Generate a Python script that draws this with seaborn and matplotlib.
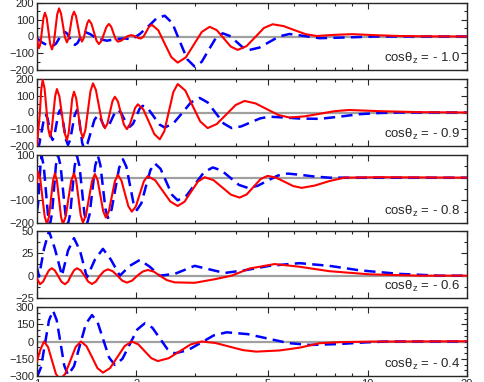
import matplotlib
matplotlib.use("Agg")
import pandas as pd
import seaborn as sns
import matplotlib.pyplot as plt
from matplotlib.ticker import FixedLocator, MultipleLocator, NullFormatter

# zenith bins, top to bottom
cos_labels = ["- 1.0", "- 0.9", "- 0.8", "- 0.6", "- 0.4"]

# --- cos = -1.0 ---
e_red_1 = [1.000, 1.014, 1.025, 1.046, 1.057, 1.070, 1.096, 1.110, 1.124, 1.151, 1.166, 1.182, 1.215,
           1.232, 1.247, 1.278, 1.294, 1.312, 1.349, 1.368, 1.384, 1.419, 1.436, 1.461, 1.513, 1.539,
           1.566, 1.622, 1.650, 1.676, 1.729, 1.757, 1.797, 1.880, 1.923, 1.957, 2.026, 2.061, 2.101,
           2.183, 2.226,
           2.328, 2.435, 2.549, 2.665, 2.819, 2.981, 3.151, 3.330, 3.498, 3.673, 3.856, 4.048, 4.302,
           4.573, 4.859, 5.164, 5.574, 6.011, 6.496, 7.015, 7.950, 9.010, 10.50, 12.48, 15.39, 20.0]
d_red_1 = [-15, -70, -39, 111, 142, 110, -45, -77, -41, 132, 168, 138, -5,
           -35, -8, 121, 148, 122, -4, -30, -11, 79, 98, 77, -24, -45,
           -27, 57, 75, 59.5, -15.5, -31, -25, 2, 8, 5, -9, -12, 0,
           58, 70,
           37, -43, -123, -156, -125, -49, 27, 58, 38, -11, -60, -80, -58,
           -4, 51, 73, 62, 38, 14, 3, 10, 14, 8, 3, 1, 0]
e_blue_1 = [1.000, 1.035, 1.080, 1.118, 1.141, 1.190, 1.215, 1.236, 1.280, 1.303, 1.326, 1.372, 1.397,
            1.446, 1.518, 1.627, 1.745, 1.845, 1.936, 2.047,
            2.194, 2.304, 2.435, 2.567, 2.703, 2.849, 3.000, 3.151, 3.308, 3.473, 3.647, 3.823, 4.005,
            4.199, 4.397, 4.713, 5.053, 5.416, 5.806, 6.451, 7.153, 8.520, 10.50, 20.0]
d_blue_1 = [-10, -35, -55, -55, -43, 15, 27, 16, -39, -50, -39, 16, 27,
            15, -12, -25, -15, -12, -17, 15,
            69, 110, 124, 80, -28, -136, -180, -151, -80, -10, 19, 4, -30,
            -66, -80, -66, -32, 1, 15, 3, -10, -6, 0, 0]

# --- cos = -0.9 ---
e_red_2 = [1.000, 1.020, 1.030, 1.040, 1.054, 1.081, 1.095, 1.108, 1.135, 1.149, 1.169, 1.211, 1.232,
           1.247, 1.278, 1.294, 1.314, 1.356, 1.377, 1.401, 1.451, 1.477, 1.507, 1.572, 1.605, 1.633,
           1.691, 1.720, 1.757, 1.831, 1.870, 1.906, 1.981, 2.019,
           2.098, 2.180, 2.265, 2.352, 2.428, 2.505, 2.585, 2.665, 2.810, 2.960, 3.119, 3.284, 3.498,
           3.737, 3.993, 4.247, 4.588, 4.970, 5.375, 5.806, 6.451, 7.153, 7.950, 8.813, 10.86, 14.34,
           20.0]
d_red_2 = [-200, -3, 136, 194, 144.5, -94.5, -144, -102, 98, 140, 95.5, -119.5, -164,
           -122, 82, 124, 84, -112, -152, -104, 126, 174, 135, -55, -94, -66.5,
           66.5, 94, 66, -71, -99, -77, 27, 49,
           18, -55.5, -129, -160, -112, 5, 122, 170, 131, 38, -54, -93, -69,
           -12, 45, 69, 54, 19, -15, -30, -23, -8, 8, 15, 8, 2,
           0]
e_blue_2 = [1.000, 1.016, 1.048, 1.065, 1.077, 1.102, 1.115, 1.129, 1.159, 1.174, 1.190, 1.224, 1.241,
            1.260, 1.300, 1.321, 1.337, 1.370, 1.387, 1.421, 1.492, 1.529, 1.550, 1.594, 1.616, 1.650,
            1.720, 1.757, 1.794, 1.870, 1.909, 1.953, 2.043, 2.090,
            2.172, 2.257, 2.345, 2.435, 2.589, 2.752, 2.924, 3.106, 3.284, 3.473, 3.673, 3.880, 4.148,
            4.431, 4.734, 5.053, 5.607, 6.224, 7.153, 8.220, 9.447, 10.86, 12.48, 20.0]
d_blue_2 = [-220, -190, -45, -15, -37, -142, -164, -138, -11, 15, -16, -163, -194,
            -163, -16, 15, -19, -181, -215, -186, -44, -15, -26, -82, -93, -77,
            -1, 15, 0, -70, -85, -67, 22, 40,
            21, -25, -71, -90, -64, -2, 61, 87, 60, -3, -66, -93, -83,
            -59, -35, -25, -30, -36, -38, -25, -10, -3, 0, 0]

# --- cos = -0.8 ---
e_red_3 = [1.000, 1.007, 1.023, 1.055, 1.072, 1.087, 1.118, 1.133, 1.149, 1.182, 1.198, 1.221, 1.269,
           1.294, 1.314, 1.356, 1.377, 1.406, 1.467, 1.497, 1.526, 1.586, 1.616, 1.650, 1.720, 1.757,
           1.800, 1.890, 1.936, 1.991, 2.105, 2.163,
           2.280, 2.403, 2.531, 2.665, 2.795, 2.929, 3.070, 3.216, 3.420, 3.635, 3.862, 4.102, 4.310,
           4.524, 4.751, 4.987, 5.291, 5.607, 5.957, 6.318, 6.918, 7.669, 8.520, 10.86, 20.0]
d_red_3 = [-18, 27, -7, -171, -205, -172, -14, 19, -14, -172, -205, -172, -14,
           19, -13, -166, -198, -167, -15, 16, -12, -148, -176, -148, -16, 12,
           -12, -126, -150, -127, -16, 7,
           -12, -59, -105, -125, -106, -61, -17, 2, -11, -43, -75, -88, -74,
           -40, -6, 8, 0, -18, -37, -45, -35, -15, 0, 2, 0]
e_blue_3 = [1.000, 1.008, 1.025, 1.033, 1.048, 1.079, 1.095, 1.110, 1.141, 1.157, 1.178, 1.219, 1.241,
            1.260, 1.300, 1.321, 1.344, 1.392, 1.416, 1.443, 1.500, 1.529, 1.555, 1.611, 1.639, 1.682,
            1.772, 1.820, 1.864, 1.957, 2.005,
            2.069, 2.134, 2.203, 2.272, 2.365, 2.461, 2.563, 2.665, 2.835, 3.012, 3.201, 3.402, 3.615,
            3.842, 4.083, 4.341, 4.652, 4.987, 5.347, 5.732, 6.224, 6.918, 7.669, 20.0]
d_blue_3 = [-150, -114, 60, 96, 52, -161, -205, -160, 55, 100, 55, -160, -205,
            -161, 52, 96, 52, -161, -205, -161, 52, 96, 56, -138, -178, -140,
            43, 81, 48, -110, -143,
            -113, -40, 33, 63, 39, -18, -76, -100, -79, -27, 24, 45, 32,
            0, -32, -45, -36, -13, 9, 18, 13, 5, 0, 0]

# --- cos = -0.6 ---
e_red_4 = [1.000, 1.021, 1.043, 1.065, 1.086, 1.108, 1.132, 1.157, 1.186, 1.215, 1.241, 1.267, 1.294,
           1.321, 1.356, 1.392, 1.428, 1.467, 1.507, 1.550, 1.594, 1.639, 1.694, 1.751, 1.810, 1.870,
           1.940, 2.012, 2.087, 2.163, 2.257, 2.352, 2.471, 2.610, 3.000, 3.447, 3.880, 4.397, 5.236,
           6.224, 7.669, 10.13, 14.34, 20.0]
d_red_4 = [-3, -9.6, -6.8, 0, 5.9, 8.3, 5.9, 0, -6.8, -9.6, -6.8, 0, 5.9,
           8.3, 5.9, 0, -6.6, -9.3, -6.6, 0, 5, 7.1, 5, 0, -5.5, -7.8,
           -5.5, 0, 4.5, 6.4, 4.5, 0, -5, -7.5, -8, -4, 0, 8, 13,
           10, 5, 1.5, 0, 0]
e_blue_4 = [1.000, 1.014, 1.050, 1.087, 1.133, 1.190, 1.241, 1.294, 1.349, 1.416, 1.497, 1.583, 1.673,
            1.781, 1.909, 2.047, 2.194, 2.352, 2.610, 3.000, 3.330, 3.695, 4.247, 5.053, 6.224, 7.669,
            9.447, 12.48, 16.48, 20.0]
d_blue_4 = [9, -1, 30, 50, 30, 0, 28, 42, 28, -2, 18, 30, 18,
            0, 11, 17.6, 10, 0, 2, 11, 7, 3, 6, 11, 14, 11,
            6, 2, 0, 0]

# --- cos = -0.4 ---
e_red_5 = [1.000, 1.021, 1.050, 1.080, 1.110, 1.141, 1.174, 1.217, 1.262, 1.309, 1.358, 1.411, 1.467,
           1.523, 1.583, 1.664, 1.751, 1.841, 1.936, 2.026, 2.119, 2.218, 2.320, 2.505, 2.703, 2.919,
           3.151, 3.467, 3.816, 4.199, 4.606, 5.416, 6.224, 7.153, 8.220, 10.14, 20.0]
d_red_5 = [-175, -80, 0, -48, -165, -282, -330, -282, -165, -48, 0, -40, -135,
           -231, -271, -231, -135, -40, 0, -25, -85, -145, -170, -145, -85, -25,
           0, -13, -44, -75, -88, -78, -54, -15, -6, -1, 2]
e_blue_5 = [1.000, 1.028, 1.057, 1.087, 1.118, 1.147, 1.178, 1.209, 1.241, 1.294, 1.349, 1.406, 1.467,
            1.526, 1.588, 1.653, 1.720, 1.813, 1.909, 2.012, 2.119, 2.234, 2.352, 2.479, 2.610, 2.859,
            3.129, 3.425, 3.748, 4.341, 5.005, 5.771, 6.672, 8.220, 9.790, 11.39, 20.0]
d_blue_5 = [-310, -225, -21, 183, 268, 186, -12, -209, -291, -215, -31, 154, 230,
            166, 13, -140, -204, -151, -23, 105, 158, 120, 28, -65, -103, -76,
            -12, 53, 80, 64, 25, -14, -30, -22, -8, 0, 0]

red_e = [e_red_1, e_red_2, e_red_3, e_red_4, e_red_5]
red_d = [d_red_1, d_red_2, d_red_3, d_red_4, d_red_5]
blue_e = [e_blue_1, e_blue_2, e_blue_3, e_blue_4, e_blue_5]
blue_d = [d_blue_1, d_blue_2, d_blue_3, d_blue_4, d_blue_5]

y_limits = [(-200, 200), (-200, 200), (-200, 100), (-25, 50), (-300, 300)]
y_major = [100, 100, 100, 25, 150]
y_minor = [50, 50, 50, 12.5, 50]

# panel boxes in figure pixels (top, bottom)
panel_px = [(3, 70), (79, 146), (155, 223), (231, 298), (307, 376)]

sns.set_style("ticks")
plt.rcParams["font.family"] = ["Liberation Sans", "DejaVu Sans"]

W, H = 485, 382
fig = plt.figure(figsize=(W / 100, H / 100), dpi=100)

for i in range(5):
    top, bot = panel_px[i]
    ax = fig.add_axes([37 / W, 1 - bot / H, 430 / W, (bot - top) / H])

    ax.axhline(0, color="#a0a0a0", lw=1.6, zorder=1)
    red_df = pd.DataFrame({"E": red_e[i], "d": red_d[i]})
    blue_df = pd.DataFrame({"E": blue_e[i], "d": blue_d[i]})
    sns.lineplot(data=red_df, x="E", y="d", ax=ax, color="red", lw=1.5, sort=False, zorder=3)
    sns.lineplot(data=blue_df, x="E", y="d", ax=ax, color="blue", lw=1.8, sort=False,
                 zorder=2, linestyle=(0, (4.5, 2.5)))

    ax.set_xscale("log")
    ax.set_xlim(1, 20)
    ax.set_ylim(*y_limits[i])
    ax.xaxis.set_major_locator(FixedLocator([1, 2, 5, 10, 20]))
    ax.xaxis.set_minor_locator(FixedLocator([3, 4, 6, 7, 8, 9]))
    ax.xaxis.set_minor_formatter(NullFormatter())
    if i == 4:
        ax.set_xticklabels(["1", "2", "5", "10", "20"])
    else:
        ax.set_xticklabels([])
    ax.yaxis.set_major_locator(MultipleLocator(y_major[i]))
    ax.yaxis.set_minor_locator(MultipleLocator(y_minor[i]))
    ax.tick_params(which="both", direction="in", top=True, right=True, labelsize=8,
                   width=0.8, pad=2)
    ax.tick_params(which="major", length=4)
    ax.tick_params(which="minor", length=2.5)
    for s in ax.spines.values():
        s.set_linewidth(1.0)
    ax.set_xlabel("")
    ax.set_ylabel("")
    ax.text(0.985, 0.06, r"cos$\mathregular{\theta_z}$ = " + cos_labels[i],
            transform=ax.transAxes, ha="right", va="bottom", fontsize=9.5)

fig.savefig("out.png", dpi=100)
